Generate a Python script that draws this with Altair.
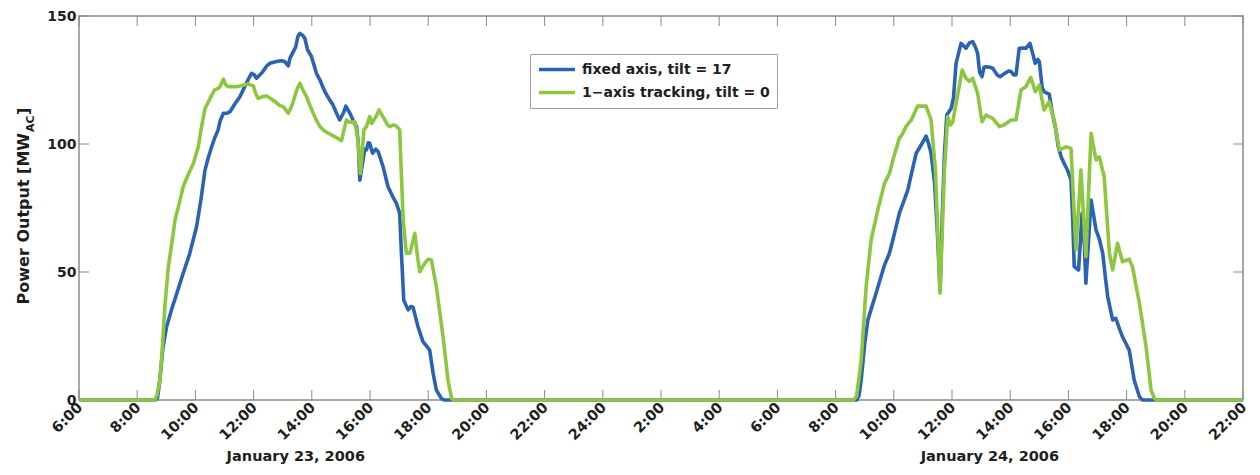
import json
import altair as alt
import pandas as pd

# ---------------- data ----------------
series_names = ["fixed axis, tilt = 17", "1\u2212axis tracking, tilt = 0"]
series_colors = ["#2a63b6", "#8dc63f"]

# hours counted from 0:00 on January 23, 2006
fixed_hours = [6, 8.62, 8.70, 8.78, 8.88, 9.01, 9.2, 9.4, 9.58, 9.8, 10.04, 10.2, 10.33, 10.45, 10.56, 10.65,
               10.78, 10.85, 10.96, 11.08, 11.19, 11.35, 11.53, 11.7, 11.85, 11.93, 12.02, 12.10, 12.3, 12.45,
               12.56, 12.79, 12.95, 13.07, 13.19, 13.25, 13.36, 13.45, 13.52, 13.59, 13.68, 13.76, 13.85, 13.99,
               14.16, 14.28, 14.45, 14.6, 14.73, 14.85, 14.96, 15.08, 15.17, 15.31, 15.45, 15.54, 15.6, 15.65,
               15.76, 15.82, 15.88, 15.94, 15.99, 16.09, 16.2, 16.28, 16.45, 16.62, 16.8, 16.91, 17.02, 17.08,
               17.16, 17.31, 17.4, 17.48, 17.65, 17.82, 17.95, 18.05, 18.17, 18.28, 18.45, 18.55,
               32.72, 32.80, 32.88, 33.0, 33.11, 33.39, 33.68, 33.85, 34.0, 34.19, 34.48, 34.6, 34.77, 34.94,
               35.11, 35.2, 35.28, 35.4, 35.5, 35.59, 35.66, 35.74, 35.82, 35.97, 36.05, 36.14, 36.31, 36.48,
               36.6, 36.71, 36.8, 36.88, 36.95, 37.03, 37.1, 37.17, 37.30, 37.40, 37.55, 37.65, 37.8, 37.95,
               38.03, 38.12, 38.20, 38.31, 38.45, 38.54, 38.68, 38.78, 38.86, 38.95, 39.00, 39.1, 39.17, 39.34,
               39.45, 39.57, 39.65, 39.75, 39.85, 39.97, 40.09, 40.15, 40.20, 40.35, 40.40, 40.47, 40.55, 40.60,
               40.68, 40.78, 40.87, 40.95, 41.06, 41.18, 41.27, 41.35, 41.52, 41.63, 41.75, 41.86, 42.09, 42.26,
               42.44, 42.55, 46]
fixed_mw = [0, 0, 1, 8, 20, 28.6, 36, 43, 49.5, 57, 67.7, 79, 89.8, 95, 98.9, 102,
            105.5, 109, 112, 112, 112.6, 115.5, 118.5, 122.5, 126, 127.6, 127, 125.7, 128, 130.5,
            131.5, 132.2, 132.5, 132.2, 130.5, 133.5, 136, 138, 142, 143.2, 142.5, 141.3, 137, 134.1,
            127.6, 125, 120.4, 117.5, 115.2, 112, 109.4, 112, 114.8, 112, 108.5, 106.8, 100, 85.9,
            93.75, 98, 97.7, 100.5, 100.3, 96.4, 98, 97, 91.1, 83.3, 79, 76.8, 72.9, 57.3,
            39, 35.2, 36.5, 36.2, 28.6, 22.8, 21, 19.5, 10.4, 3.9, 0.6, 0,
            0, 1.5, 7.8, 22, 31.3, 41.7, 52.7, 57.3, 64, 72.9, 82, 88, 96.4, 99.6,
            103.1, 100, 96.4, 85, 65, 42.5, 70, 96, 111.3, 113.9, 118, 131.5, 139.3, 137.4,
            139.5, 140, 138, 135.4, 128, 126.3, 130, 130.2, 130, 129.6, 127, 126.3, 127.5, 128.5,
            128.3, 127, 127, 137.4, 137.5, 137.4, 139.3, 135, 131.5, 133, 132.2, 122, 120.4, 119.5,
            112, 105.5, 99, 95, 92.5, 89.8, 85.9, 70, 52.1, 50.8, 60, 72.9, 60, 45.6,
            60, 78.1, 72, 66.4, 63, 57.3, 48, 40.4, 31.3, 31.9, 28, 24.7, 19.5, 7.8,
            1.3, 0, 0]

track_hours = [6, 8.60, 8.68, 8.78, 8.85, 8.95, 9.07, 9.20, 9.30, 9.45, 9.58, 9.75, 9.93, 10.10, 10.2, 10.33,
               10.45, 10.56, 10.65, 10.78, 10.85, 10.96, 11.05, 11.13, 11.42, 11.81, 11.99, 12.08, 12.16, 12.3,
               12.45, 12.62, 12.79, 12.9, 13.02, 13.19, 13.28, 13.36, 13.48, 13.59, 13.70, 13.82, 13.90, 14.05,
               14.17, 14.28, 14.45, 14.68, 14.85, 15.02, 15.19, 15.3, 15.48, 15.58, 15.67, 15.74, 15.79, 15.88,
               15.99, 16.06, 16.13, 16.22, 16.31, 16.4, 16.51, 16.6, 16.68, 16.8, 16.91, 17.02, 17.14, 17.25,
               17.37, 17.54, 17.62, 17.71, 17.88, 18.0, 18.11, 18.28, 18.51, 18.68, 18.80, 18.88,
               32.62, 32.72, 32.88, 33.05, 33.22, 33.45, 33.68, 33.85, 34.0, 34.19, 34.3, 34.42, 34.60, 34.82,
               35.11, 35.28, 35.43, 35.59, 35.74, 35.85, 35.95, 36.03, 36.14, 36.35, 36.48, 36.6, 36.71, 36.88,
               37.03, 37.17, 37.40, 37.63, 37.8, 38.03, 38.20, 38.37, 38.54, 38.71, 38.86, 39.00, 39.16, 39.34,
               39.51, 39.69, 39.92, 40.09, 40.26, 40.43, 40.60, 40.78, 40.95, 41.06, 41.23, 41.41, 41.52, 41.69,
               41.86, 42.09, 42.20, 42.44, 42.67, 42.84, 42.95, 43.02, 46]
track_mw = [0, 0, 2, 7.8, 18, 36.5, 52, 62, 70.3, 77, 83.3, 88, 92.4, 98.9, 106, 113.9,
            116.5, 119.1, 121, 121.7, 122.5, 125.3, 123, 122.4, 122.4, 123.4, 122.7, 119.5, 117.8, 118.5,
            118.75, 117.5, 116.1, 115, 114.6, 112, 114, 116.5, 121, 123.7, 121, 118.5, 116, 112,
            109, 106.8, 105, 103.5, 102.5, 101.3, 109.4, 108.5, 108.7, 102, 88.5, 98, 105.5, 106.8,
            110.7, 108, 109.4, 111, 113.3, 111.5, 109.4, 107.5, 106.8, 107.5, 107, 105.5, 70.3, 57.3,
            57.3, 65.1, 57, 50.1, 53.4, 55, 54.7, 44.3, 24.7, 7.8, 0.7, 0,
            0, 1.5, 15.6, 44.3, 62.5, 74.2, 84.6, 88.5, 95, 102.2, 104, 106.8, 109.4, 114.8,
            114.8, 109.4, 89.8, 41.7, 89.8, 110.7, 107.5, 108.7, 115.9, 128.9, 125.7, 124.5, 125.7, 119.8,
            108.7, 111.3, 110, 106.8, 107.5, 109.4, 109.4, 121.1, 122.4, 126, 120.4, 123, 113.3, 116.5,
            109.4, 97.7, 98.9, 98.3, 58.6, 89.8, 56, 104.2, 93.75, 95, 87.2, 57.3, 50.8, 61.2,
            54, 55, 52.1, 37.8, 20.8, 3.9, 0.7, 0, 0]

tick_hours = [6, 8, 10, 12, 14, 16, 18, 20, 22, 24, 26, 28, 30, 32, 34, 36, 38, 40, 42, 44, 46]
tick_labels = ["6:00", "8:00", "10:00", "12:00", "14:00", "16:00", "18:00", "20:00", "22:00", "24:00",
               "2:00", "4:00", "6:00", "8:00", "10:00", "12:00", "14:00", "16:00", "18:00", "20:00", "22:00"]
y_ticks = [0, 50, 100, 150]
date_labels = ["January 23, 2006", "January 24, 2006"]
date_hours = [13.45, 37.3]

# ---------------- build ----------------
W, H = 1164, 384
FONT = "DejaVu Sans"
AXIS_GRAY = "#8a8a8a"
TEXT = "#1e1e1e"

df = pd.concat([
    pd.DataFrame({"hour": fixed_hours, "mw": fixed_mw, "series": series_names[0], "o": range(len(fixed_hours))}),
    pd.DataFrame({"hour": track_hours, "mw": track_mw, "series": series_names[1], "o": range(len(track_hours))}),
], ignore_index=True)

labels_js = "[" + ",".join("'" + s + "'" for s in tick_labels) + "]"
label_expr = f"{labels_js}[indexof({json.dumps(tick_hours)}, datum.value)]"

x_enc = alt.X("hour:Q", scale=alt.Scale(domain=[6, 46], nice=False, zero=False),
              axis=alt.Axis(values=tick_hours, labelExpr=label_expr, labelAngle=315, labelAlign="right",
                            labelBaseline="middle", labelPadding=5, labelOffset=1, ticks=False, domain=False,
                            grid=False, title=None, labelFontSize=14.5, labelFont=FONT, labelFontWeight="bold",
                            labelColor=TEXT, labelOverlap=False))
y_enc = alt.Y("mw:Q", scale=alt.Scale(domain=[0, 150], nice=False),
              axis=alt.Axis(values=y_ticks, ticks=False, domain=False, grid=False, title=None, labelPadding=3,
                            labelFontSize=14, labelFont=FONT, labelFontWeight="bold", labelColor=TEXT))

lines = alt.Chart(df).mark_line(strokeWidth=3.6, strokeJoin="round").encode(
    x=x_enc,
    y=y_enc,
    order="o:Q",
    color=alt.Color("series:N", scale=alt.Scale(domain=series_names, range=series_colors),
                    legend=alt.Legend(title=None, orient="none", legendX=451, legendY=38, direction="vertical",
                                      symbolType="stroke", symbolSize=1296, symbolStrokeWidth=3.4, clipHeight=17,
                                      labelFontSize=14, labelFont=FONT, labelFontWeight="bold", labelColor=TEXT,
                                      labelLimit=400, labelOffset=5, rowPadding=6, padding=7,
                                      strokeColor="#a0a0a0", fillColor="white")),
)

xt = pd.DataFrame({"hour": tick_hours})
yt = pd.DataFrame({"mw": y_ticks})
tick_style = dict(color=AXIS_GRAY, strokeWidth=1)
x_ticks_bottom = alt.Chart(xt).mark_rule(**tick_style).encode(x=x_enc, y=alt.value(H), y2=alt.value(H - 10))
x_ticks_top = alt.Chart(xt).mark_rule(**tick_style).encode(x=x_enc, y=alt.value(0), y2=alt.value(10))
y_ticks_left = alt.Chart(yt).mark_rule(**tick_style).encode(y=y_enc, x=alt.value(0), x2=alt.value(10))
y_ticks_right = alt.Chart(yt).mark_rule(**tick_style).encode(y=y_enc, x=alt.value(W - 10), x2=alt.value(W))

dates = alt.Chart(pd.DataFrame({"hour": date_hours, "label": date_labels})).mark_text(
    font=FONT, fontSize=14.5, fontWeight="bold", color=TEXT, align="center", baseline="middle"
).encode(x=x_enc, y=alt.value(441), text="label:N")

title_main = alt.Chart(pd.DataFrame({"t": ["Power Output [MW"]})).mark_text(
    font=FONT, fontSize=16, fontWeight="bold", color=TEXT, angle=270, align="right", baseline="middle"
).encode(x=alt.value(-55), y=alt.value(117), text="t:N")
title_sub = alt.Chart(pd.DataFrame({"t": ["AC"]})).mark_text(
    font=FONT, fontSize=11, fontWeight="bold", color=TEXT, angle=270, align="left", baseline="middle"
).encode(x=alt.value(-48), y=alt.value(116), text="t:N")
title_end = alt.Chart(pd.DataFrame({"t": ["]"]})).mark_text(
    font=FONT, fontSize=16, fontWeight="bold", color=TEXT, angle=270, align="left", baseline="middle"
).encode(x=alt.value(-55), y=alt.value(99), text="t:N")

chart = alt.layer(
    x_ticks_bottom, x_ticks_top, y_ticks_left, y_ticks_right, lines, dates, title_main, title_sub, title_end
).properties(
    width=W, height=H,
    autosize=alt.AutoSizeParams(type="none"),
    padding={"left": 71, "top": 8, "right": 9, "bottom": 64},
).configure(font=FONT).configure_view(stroke=AXIS_GRAY, strokeWidth=1.5)

chart.save("out.html", embed_options={"renderer": "svg", "actions": False})
